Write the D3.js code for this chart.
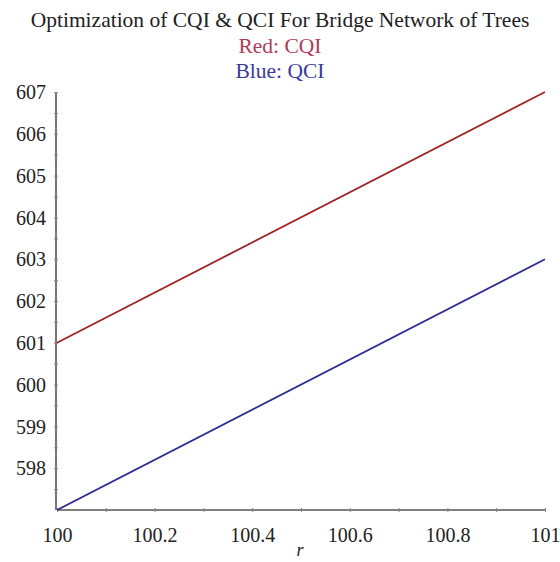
<!DOCTYPE html>
<html><head><meta charset="utf-8">
<script src="https://cdn.jsdelivr.net/npm/d3@7"></script>
<style>body{margin:0;background:#fff}svg{display:block}</style>
</head><body>
<svg id="c" width="560" height="562"></svg>
<script>
const rValues = [100, 101];
const cqiValues = [601, 607];
const qciValues = [597, 603];
const xTicks = [100, 100.2, 100.4, 100.6, 100.8, 101];
const yTicks = [598, 599, 600, 601, 602, 603, 604, 605, 606, 607];
const titleLines = ["Optimization of CQI & QCI For Bridge Network of Trees", "Red: CQI", "Blue: QCI"];

const svg = d3.select("#c");
const font = "'Liberation Serif', 'Times New Roman', serif";
const x = d3.scaleLinear().domain([100, 101]).range([57, 545]);
const y = d3.scaleLinear().domain([597, 607]).range([510, 92]);

const titleColors = ["#222", "#b03a5a", "#3a3a9c"];
titleLines.forEach((t, i) => {
  svg.append("text").attr("x", 280).attr("y", 27 + i * 25.5)
    .attr("text-anchor", "middle").attr("font-family", font)
    .attr("font-size", 21.5).attr("fill", titleColors[i]).text(t);
});

const axisColor = "#555";
const xAxis = svg.append("g").attr("transform", `translate(0,${y(597)})`)
  .call(d3.axisBottom(x).tickValues(d3.range(100, 101.001, 0.1)).tickSize(4)
    .tickFormat(d => { const v = Math.round(d * 10) / 10; return xTicks.some(t => Math.abs(t - v) < 1e-6) ? d3.format("")(v) : ""; }));
xAxis.select(".domain").attr("stroke", axisColor).attr("stroke-width", 1.6).attr("d", `M${x(100)},0H${x(101)}`);
xAxis.selectAll(".tick line").attr("stroke", "#888").attr("y1", -2).attr("y2", 2);
xAxis.selectAll(".tick text").attr("font-family", font).attr("font-size", 20).attr("fill", "#222").attr("dy", "0").attr("y", 32);

const yAxis = svg.append("g").attr("transform", `translate(${x(100) - 1},0)`)
  .call(d3.axisLeft(y).tickValues(d3.range(597.5, 607.001, 0.5)).tickSize(4)
    .tickFormat(d => yTicks.includes(d) ? d : ""));
yAxis.select(".domain").attr("stroke", axisColor).attr("stroke-width", 1.6).attr("d", `M0,${y(607)}V${y(597)}`);
yAxis.selectAll(".tick line").attr("stroke", "#888").attr("x1", -2).attr("x2", 2);
yAxis.selectAll(".tick text").attr("font-family", font).attr("font-size", 20).attr("fill", "#222").attr("x", -10).attr("dy", "0.33em");

svg.append("text").attr("x", 300).attr("y", 556).attr("text-anchor", "middle")
  .attr("font-family", font).attr("font-style", "italic").attr("font-size", 18).attr("fill", "#222").text("r");

const line = d3.line().x(d => x(d[0])).y(d => y(d[1]));
svg.append("path").datum(rValues.map((r, i) => [r, cqiValues[i]]))
  .attr("d", line).attr("fill", "none").attr("stroke", "#9e2326").attr("stroke-width", 1.8);
svg.append("path").datum(rValues.map((r, i) => [r, qciValues[i]]))
  .attr("d", line).attr("fill", "none").attr("stroke", "#2b2b94").attr("stroke-width", 1.8);
</script>
</body></html>
